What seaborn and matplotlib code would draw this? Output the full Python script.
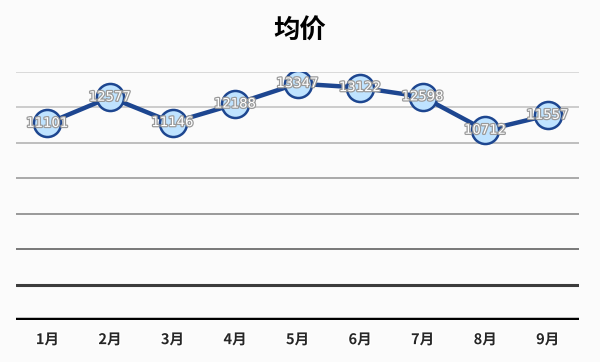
import pandas as pd
import matplotlib.pyplot as plt
import matplotlib.patheffects as pe
import seaborn as sb

# Chart data
months = ['1月', '2月', '3月', '4月', '5月', '6月', '7月', '8月', '9月']
avg_price = [11101, 12577, 11146, 12188, 13347, 13122, 12598, 10712, 11557]
grid_levels = [2000, 4000, 6000, 8000, 10000, 12000, 14000]

df = pd.DataFrame({'month': months, 'price': avg_price})

sb.set_style('white')
plt.rcParams['font.family'] = ['Noto Sans CJK SC', 'DejaVu Sans']

fig = plt.figure(figsize=(6, 3.62), dpi=100)
fig.patch.set_facecolor('#fbfbfb')
ax = fig.add_axes([0.027, 0.116, 0.938, 0.685])
ax.set_facecolor('#fbfbfb')

# gridlines get darker towards the bottom
grid_colors = ['#3c3c3c', '#6e6e6e', '#888888', '#9c9c9c', '#b4b4b4', '#c4c4c4', '#d4d4d4']
grid_widths = [2.2, 1.3, 1.2, 1.2, 1.2, 1.2, 1.2]
for lvl, c, w in zip(grid_levels, grid_colors, grid_widths):
    ax.axhline(lvl, color=c, lw=w, zorder=0)
ax.axhline(0, color='black', lw=3.2, zorder=1)

sb.lineplot(data=df, x='month', y='price', sort=False, ax=ax,
            color='#1d4690', lw=3.2, marker='o', markersize=19.5,
            markerfacecolor='#bfe3ff', markeredgecolor='#1d4690',
            markeredgewidth=1.8, zorder=3)

for i, v in enumerate(avg_price):
    ax.text(i, v, str(v), ha='center', va='center', fontsize=9.5,
            color='white', zorder=5, family='DejaVu Sans',
            path_effects=[pe.withStroke(linewidth=1.8, foreground='#9a9a9a')])

ax.set_xlim(-0.5, 8.5)
ax.set_ylim(0, 14000)
ax.set_yticks([])
ax.set_xticks(range(len(months)))
ax.set_xticklabels(months, fontsize=10.5, fontweight='bold',
                   path_effects=[pe.withStroke(linewidth=2, foreground='white')])
ax.tick_params(axis='x', length=0, pad=8)
ax.set_xlabel('')
ax.set_ylabel('')
for s in ax.spines.values():
    s.set_visible(False)

fig.text(0.5, 0.915, '均价', ha='center', va='center', fontsize=19,
         fontweight='bold', color='black')

fig.savefig('out.png', dpi=100, facecolor=fig.get_facecolor())
